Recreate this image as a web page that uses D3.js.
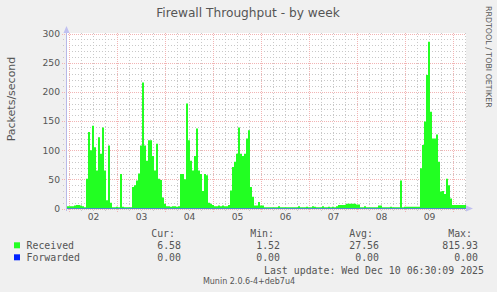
<!DOCTYPE html>
<html><head><meta charset="utf-8">
<script src="https://cdn.jsdelivr.net/npm/d3@7/dist/d3.min.js"></script>
<style>
html,body{margin:0;padding:0;background:#f0f0f0;}
svg{display:block;}
text{font-family:"DejaVu Sans",sans-serif;fill:#555;}
.mono{font-family:"DejaVu Sans Mono",monospace;}
</style></head>
<body>
<script>
// ---- data (hourly samples starting Mon Dec 1 2025 22:30) ----
const startTime = new Date(2025, 11, 1, 22, 30);
const endTime = new Date(2025, 11, 10, 6, 30);
const received = [
 4,4,4,4,5,6,6,5,4,2,
 51,131,100,142,105,65,122,94,139,65,
 14,108,10,2,2,3,2,59,3,2,
 2,2,2,37,40,48,60,108,216,108,
 82,117,117,90,65,111,51,49,19,8,
 4,4,3,4,4,3,4,59,59,50,
 180,117,82,65,90,137,65,59,30,59,
 57,10,8,6,4,4,5,4,5,4,
 4,6,31,71,80,94,139,94,90,94,
 120,134,37,20,5,5,11,5,5,2,
 2,2,2,2,2,2,4,2,2,2,
 2,2,2,2,2,2,4,2,2,2,
 3,2,2,4,3,2,2,2,4,2,
 2,3,2,3,2,4,6,6,6,6,
 8,8,8,8,8,7,7,2,2,4,
 2,2,2,2,2,2,5,5,2,2,
 2,2,3,2,2,2,2,48,2,3,
 3,3,3,3,3,3,3,69,109,149,
 229,286,166,120,120,127,80,29,30,25,
 51,40,17,6,6,6,6,6,6,6
];
const forwarded = received.map(() => 0);
const dayLabels = ["02","03","04","05","06","07","08","09"];
const yTicks = [0,50,100,150,200,250,300];
const seriesNames = ["Received","Forwarded"];
const seriesColors = ["#22ff22","#0022ff"];
const statHeaders = ["Cur:","Min:","Avg:","Max:"];
const statValues = [["6.58","1.52","27.56","815.93"],["0.00","0.00","0.00","0.00"]];
const title = "Firewall Throughput - by week";
const yLabel = "Packets/second";
const lastUpdate = "Last update: Wed Dec 10 06:30:09 2025";
const watermark = "Munin 2.0.6-4+deb7u4";
const sideText = "RRDTOOL / TOBI OETIKER";

const W = 497, H = 292;
const svg = d3.select("body").append("svg").attr("width", W).attr("height", H);
svg.append("rect").attr("width", W).attr("height", H).attr("fill", "#f0f0f0");

const x = d3.scaleTime().domain([startTime, endTime]).range([66, 466]);
const y = d3.scaleLinear().domain([0, 300]).range([208.5, 33.5]);
const HOUR = 3600 * 1000;
const data = received.map((v, i) => ({t: new Date(+startTime + i * HOUR), r: v, f: forwarded[i]}));
data.push({t: endTime, r: received[received.length - 1], f: forwarded[forwarded.length - 1]});

// plot background
svg.append("rect").attr("x", 66).attr("y", 33).attr("width", 400).attr("height", 175.5).attr("fill", "#fff");

const grid = svg.append("g");
const minorCol = "#c8c8c8", majorCol = "#f2b4b4";
// horizontal minor grid
d3.range(0, 301, 10).filter(v => v % 50 !== 0).forEach(v => {
  const yy = Math.round(y(v)) + 0.5;
  grid.append("line").attr("x1", 63).attr("x2", 466).attr("y1", yy).attr("y2", yy)
    .attr("stroke", minorCol).attr("stroke-dasharray", "1,2");
});
// vertical minor grid (6h)
const sixH = d3.timeHour.every(6).range(startTime, endTime).filter(d => d.getHours() !== 0);
sixH.forEach(d => {
  const xx = Math.round(x(d)) + 0.5;
  grid.append("line").attr("x1", xx).attr("x2", xx).attr("y1", 33).attr("y2", 211)
    .attr("stroke", minorCol).attr("stroke-dasharray", "1,2");
});
// major grids
yTicks.forEach(v => {
  const yy = Math.round(y(v)) + 0.5;
  grid.append("line").attr("x1", 62).attr("x2", 466).attr("y1", yy).attr("y2", yy)
    .attr("stroke", majorCol).attr("stroke-dasharray", "1,1");
});
d3.timeDay.range(startTime, endTime).forEach(d => {
  const xx = Math.round(x(d)) + 0.5;
  grid.append("line").attr("x1", xx).attr("x2", xx).attr("y1", 33).attr("y2", 212)
    .attr("stroke", majorCol).attr("stroke-dasharray", "1,1");
});

// received area
const area = d3.area().curve(d3.curveStepAfter).x(d => x(d.t)).y0(y(0)).y1(d => y(Math.min(d.r, 300)));
svg.append("path").datum(data).attr("d", area).attr("fill", seriesColors[0]);
// forwarded line
const line = d3.line().curve(d3.curveStepAfter).x(d => x(d.t)).y(d => y(d.f));
svg.append("path").datum(data).attr("d", line).attr("fill", "none")
  .attr("stroke", seriesColors[1]).attr("stroke-opacity", 0.5).attr("stroke-width", 1);

// axes lines + arrows
const axisCol = "#b8b8e8";
svg.append("line").attr("x1", 66.5).attr("x2", 66.5).attr("y1", 30).attr("y2", 211).attr("stroke", axisCol);
svg.append("path").attr("d", "M63.5,33 L69.5,33 L66.5,26 Z").attr("fill", "#c0c0f0");
svg.append("path").attr("d", "M466,205.5 L466,211.5 L473,208.5 Z").attr("fill", "#c0c0f0");

// y axis labels
const yAxis = d3.axisLeft(y).tickValues(yTicks).tickSize(0).tickPadding(6);
const gy = svg.append("g").attr("transform", "translate(66,0)").call(yAxis);
gy.select(".domain").remove();
gy.selectAll("text").attr("font-size", "9.2px").attr("font-family", "DejaVu Sans").attr("fill", "#555");

// x axis labels (noon of each day)
const noon = dayLabels.map(s => new Date(2025, 11, +s, 12, 0));
const xAxis = d3.axisBottom(x).tickValues(noon).tickFormat((d, i) => dayLabels[i]).tickSize(0).tickPadding(5);
const gx = svg.append("g").attr("transform", "translate(0,208)").call(xAxis);
gx.select(".domain").remove();
gx.selectAll("text").attr("font-size", "9.2px").attr("font-family", "DejaVu Sans").attr("fill", "#555");

// title
svg.append("text").attr("x", 248).attr("y", 17.3).attr("text-anchor", "middle")
  .attr("font-size", "12.2px").text(title);
// y label
svg.append("text").attr("transform", "translate(14.5,99) rotate(-90)").attr("text-anchor", "middle")
  .attr("font-size", "11px").text(yLabel);
// side text
svg.append("text").attr("transform", "translate(485.5,6) rotate(90)").attr("font-size", "7.9px")
  .attr("fill", "#c4c4c4").text(sideText);

// legend
const statX = [181, 280, 379, 478];
statHeaders.forEach((h, i) => {
  svg.append("text").attr("class", "mono").attr("x", statX[i] - 6).attr("y", 237.3)
    .attr("text-anchor", "end").attr("font-size", "9.9px").text(h);
});
seriesNames.forEach((n, r) => {
  const by = 249.3 + r * 12;
  svg.append("rect").attr("x", 14).attr("y", by - 7).attr("width", 6).attr("height", 6)
    .attr("fill", seriesColors[r]);
  svg.append("text").attr("class", "mono").attr("x", 26.5).attr("y", by).attr("font-size", "9.9px").text(n);
  statValues[r].forEach((v, i) => {
    svg.append("text").attr("class", "mono").attr("x", statX[i]).attr("y", by)
      .attr("text-anchor", "end").attr("font-size", "9.9px").text(v);
  });
});
svg.append("text").attr("class", "mono").attr("x", 484).attr("y", 273.5).attr("text-anchor", "end")
  .attr("font-size", "9.9px").text(lastUpdate);
svg.append("text").attr("x", 249).attr("y", 284).attr("text-anchor", "middle")
  .attr("font-size", "8px").attr("fill", "#bbb").text(watermark);
</script>
</body></html>
